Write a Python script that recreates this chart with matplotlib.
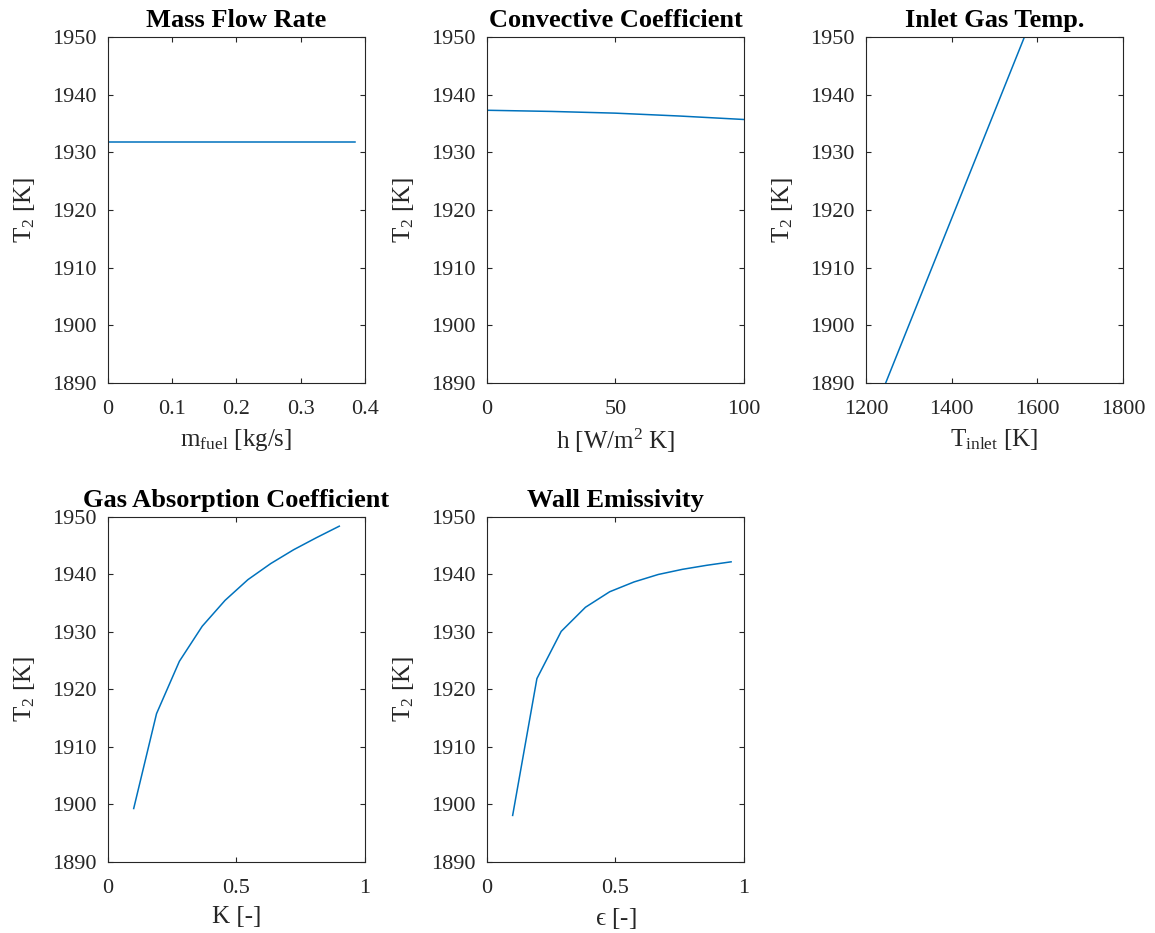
import numpy as np
import matplotlib
matplotlib.use("Agg")
import matplotlib.pyplot as plt
from matplotlib.ticker import FuncFormatter

plt.rcParams['font.family'] = ['Liberation Serif', 'DejaVu Serif']
plt.rcParams['mathtext.fontset'] = 'stix'
plt.rcParams['mathtext.default'] = 'regular'

# parametric study results, T2 [K]
m_fuel = [0.0, 0.385]
T2_mfuel = [1931.8, 1931.8]

h_conv = [0, 25, 50, 75, 100]
T2_h = [1937.3, 1937.1, 1936.8, 1936.3, 1935.7]

T_inlet = [1200, 1600]
T2_inlet = [1881.5, 1955.6]

K_abs = np.linspace(0.1, 0.9, 10)
T2_K = [1899.3, 1915.8, 1924.9, 1931.0, 1935.5, 1939.1, 1941.9, 1944.3, 1946.4, 1948.4]

eps_wall = np.linspace(0.1, 0.95, 10)
T2_eps = [1898.1, 1921.9, 1930.1, 1934.3, 1937.0, 1938.7, 1940.0, 1940.9, 1941.6, 1942.2]

line_color = '#0072BD'
fig = plt.figure(figsize=(11.55, 9.33), dpi=100)

top_b, top_h = 0.5895, 0.3708
bot_b, bot_h = 0.0761, 0.3698
w = 0.2225
lefts = [0.0935, 0.4216, 0.7498]

panels = [
    (lefts[0], top_b, top_h, m_fuel, T2_mfuel, 'Mass Flow Rate', 'm$_{fuel}$ [kg/s]', (0, 0.4), [0, 0.1, 0.2, 0.3, 0.4]),
    (lefts[1], top_b, top_h, h_conv, T2_h, 'Convective Coefficient', 'h [W/m$^2$ K]', (0, 100), [0, 50, 100]),
    (lefts[2], top_b, top_h, T_inlet, T2_inlet, 'Inlet Gas Temp.', 'T$_{inlet}$ [K]', (1200, 1800), [1200, 1400, 1600, 1800]),
    (lefts[0], bot_b, bot_h, K_abs, T2_K, 'Gas Absorption Coefficient', 'K [-]', (0, 1), [0, 0.5, 1]),
    (lefts[1], bot_b, bot_h, eps_wall, T2_eps, 'Wall Emissivity', '$\u03f5$ [-]', (0, 1), [0, 0.5, 1]),
]

fmt = FuncFormatter(lambda v, p: '%g' % v)

for left, bottom, height, x, y, title, xlabel, xlim, xticks in panels:
    ax = fig.add_axes([left, bottom, w, height])
    ax.plot(x, y, color=line_color, lw=1.1)
    ax.set_xlim(*xlim)
    ax.set_ylim(1890, 1950)
    ax.set_xticks(xticks)
    ax.set_yticks(range(1890, 1951, 10))
    ax.xaxis.set_major_formatter(fmt)
    ax.tick_params(direction='in', top=True, right=True, length=3.6, width=0.8,
                   labelsize=16, colors='0.15', labelcolor='0.15')
    ax.tick_params(axis='x', pad=12)
    ax.tick_params(axis='y', pad=8)
    for s in ax.spines.values():
        s.set_color('0.15')
        s.set_linewidth(0.8)
    ax.set_title(title, fontsize=19, fontweight='bold', pad=7)
    ax.set_xlabel(xlabel, fontsize=18, color='0.15', labelpad=6)
    ax.set_ylabel('T$_2$ [K]', fontsize=18, color='0.15', labelpad=11)

fig.savefig('out.png', dpi=100)
